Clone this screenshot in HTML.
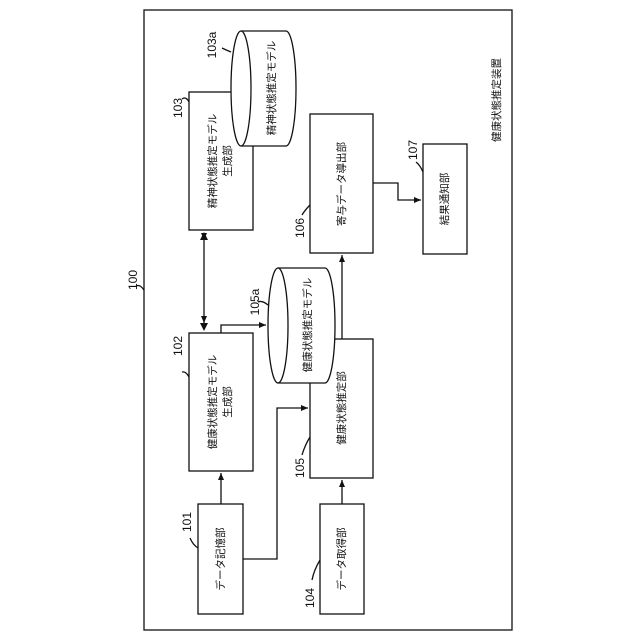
<!DOCTYPE html>
<html><head><meta charset="utf-8"><style>
html,body{margin:0;padding:0;background:#fff;}
svg{display:block;}
text{font-family:"Liberation Sans","Noto Sans CJK JP",sans-serif;fill:#111;}
</style></head><body>
<svg width="640" height="640" viewBox="0 0 640 640" xmlns="http://www.w3.org/2000/svg">
<defs>
<marker id="a" markerWidth="8" markerHeight="8" refX="7" refY="4" orient="auto" markerUnits="userSpaceOnUse">
<path d="M0,1 L7,4 L0,7 Z" fill="#111"/></marker>
</defs>
<g fill="none" stroke="#111" stroke-width="1.3">
<rect x="144" y="10" width="368" height="620"/>
<rect x="189" y="92" width="64" height="138" fill="#fff"/>
<rect x="310" y="114" width="63" height="139"/>
<rect x="423" y="144" width="44" height="110"/>
<rect x="189" y="333" width="64" height="138"/>
<rect x="310" y="339" width="63" height="139"/>
<rect x="198" y="504" width="45" height="110"/>
<rect x="320" y="504" width="44" height="110"/>
<!-- cylinder 103a -->
<path d="M241,31 L286,31 A10,57.5 0 0 1 286,146 L241,146" fill="#fff"/>
<ellipse cx="241" cy="88.5" rx="10" ry="57.5" fill="#fff"/>
<!-- cylinder 105a -->
<path d="M278,268 L325,268 A10,57.5 0 0 1 325,383 L278,383" fill="#fff"/>
<ellipse cx="278" cy="325.5" rx="10" ry="57.5" fill="#fff"/>
<!-- arrows -->
<path d="M373,183 L398,183 L398,200 L421,200" marker-end="url(#a)"/>
<path d="M204,240 L204,323" marker-start="url(#a)" marker-end="url(#a)" transform="translate(0,0)"/>
<path d="M221,504 L221,473" marker-end="url(#a)"/>
<path d="M342,504 L342,480" marker-end="url(#a)"/>
<path d="M243,559 L277,559 L277,408 L308,408" marker-end="url(#a)"/>
<path d="M221,333 L221,325 L266,325" marker-end="url(#a)"/>
<path d="M342,339 L342,255" marker-end="url(#a)"/>
<!-- leaders -->
<path d="M144,290 Q140,284 136,286" />
<path d="M189,102 Q186,96 182,99" />
<path d="M231,52 Q226,50 222,48" />
<path d="M310,205 Q305,210 302,215" />
<path d="M423,172 Q420,165 416,162" />
<path d="M268,305 Q262,300 258,302" />
<path d="M189,377 Q186,371 182,372" />
<path d="M198,548 Q193,545 190,538" />
<path d="M310,437 Q305,445 302,455" />
<path d="M320,560 Q314,570 312,580" />
</g>
<path d="M204,232 L200,240 L208,240 Z M204,331 L200,323 L208,323 Z" fill="#111"/>
<g font-size="10.5">
<text transform="translate(213,161) rotate(-90)" text-anchor="middle" dominant-baseline="central">精神状態推定モデル</text>
<text transform="translate(228,161) rotate(-90)" text-anchor="middle" dominant-baseline="central">生成部</text>
<text transform="translate(272,88) rotate(-90)" text-anchor="middle" dominant-baseline="central">精神状態推定モデル</text>
<text transform="translate(342,184) rotate(-90)" text-anchor="middle" dominant-baseline="central">寄与データ導出部</text>
<text transform="translate(445,199) rotate(-90)" text-anchor="middle" dominant-baseline="central">結果通知部</text>
<text transform="translate(213,402) rotate(-90)" text-anchor="middle" dominant-baseline="central">健康状態推定モデル</text>
<text transform="translate(228,402) rotate(-90)" text-anchor="middle" dominant-baseline="central">生成部</text>
<text transform="translate(308,325) rotate(-90)" text-anchor="middle" dominant-baseline="central">健康状態推定モデル</text>
<text transform="translate(342,408) rotate(-90)" text-anchor="middle" dominant-baseline="central">健康状態推定部</text>
<text transform="translate(221,559) rotate(-90)" text-anchor="middle" dominant-baseline="central">データ記憶部</text>
<text transform="translate(342,559) rotate(-90)" text-anchor="middle" dominant-baseline="central">データ取得部</text>
<text transform="translate(497,100) rotate(-90)" text-anchor="middle" dominant-baseline="central">健康状態推定装置</text>
</g>
<g font-size="12">
<text transform="translate(133,280) rotate(-90)" text-anchor="middle" dominant-baseline="central">100</text>
<text transform="translate(178,108) rotate(-90)" text-anchor="middle" dominant-baseline="central">103</text>
<text transform="translate(212,45) rotate(-90)" text-anchor="middle" dominant-baseline="central">103a</text>
<text transform="translate(300,228) rotate(-90)" text-anchor="middle" dominant-baseline="central">106</text>
<text transform="translate(413,150) rotate(-90)" text-anchor="middle" dominant-baseline="central">107</text>
<text transform="translate(255,302) rotate(-90)" text-anchor="middle" dominant-baseline="central">105a</text>
<text transform="translate(178,346) rotate(-90)" text-anchor="middle" dominant-baseline="central">102</text>
<text transform="translate(187,522) rotate(-90)" text-anchor="middle" dominant-baseline="central">101</text>
<text transform="translate(300,468) rotate(-90)" text-anchor="middle" dominant-baseline="central">105</text>
<text transform="translate(310,598) rotate(-90)" text-anchor="middle" dominant-baseline="central">104</text>
</g>
</svg>
</body></html>
